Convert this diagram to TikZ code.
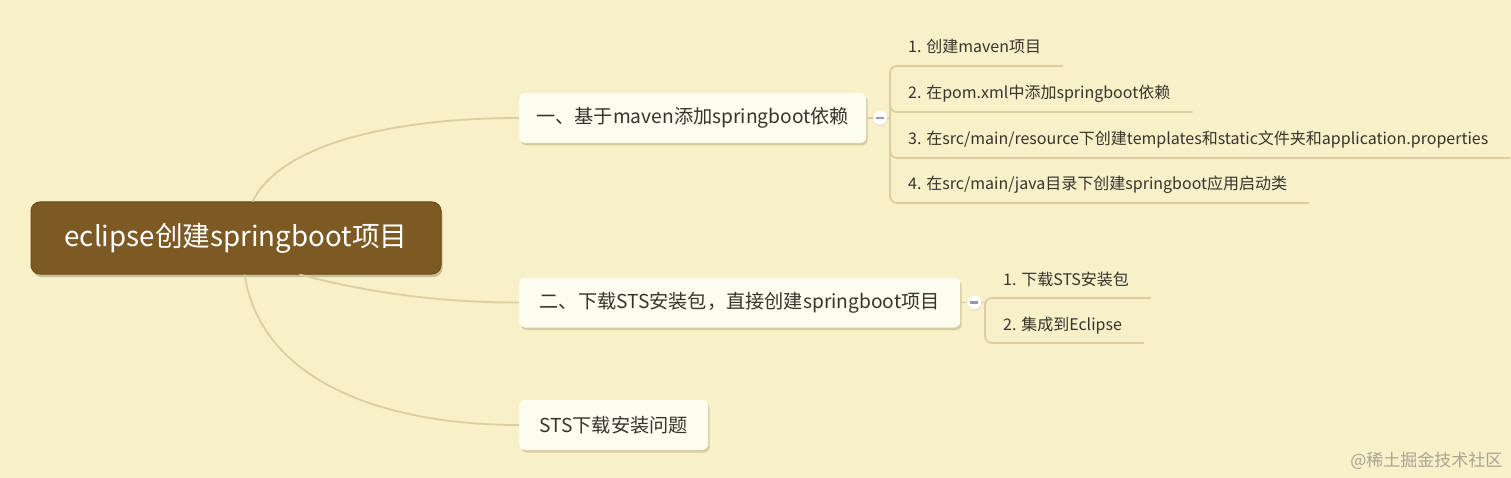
\documentclass[tikz,border=0pt]{standalone}
\usepackage{fontspec}
\setmainfont{Noto Sans CJK SC}
\usetikzlibrary{shadows,calc}

\definecolor{paper}{RGB}{247,240,200}
\definecolor{rootbrown}{RGB}{125,90,35}
\definecolor{rootedge}{RGB}{105,75,28}
\definecolor{topicfill}{RGB}{254,252,238}
\definecolor{branchtan}{RGB}{218,206,162}
\definecolor{inktext}{RGB}{55,52,44}
\definecolor{markgray}{RGB}{168,164,146}

\begin{document}
\begin{tikzpicture}[x=1pt,y=-1pt,
    root/.style={rectangle,rounded corners=9pt,fill=rootbrown,draw=rootedge,line width=1pt,
      text=white,font=\fontsize{27.7}{30}\selectfont,minimum width=410pt,minimum height=72pt,
      drop shadow={shadow xshift=1.5pt,shadow yshift=-3pt,opacity=.3,fill=rootedge}},
    topic/.style={rectangle,rounded corners=6pt,fill=topicfill,text=inktext,
      font=\fontsize{19.2}{22}\selectfont,minimum height=50pt,anchor=west,
      drop shadow={shadow xshift=1.5pt,shadow yshift=-2.5pt,opacity=.22,fill=rootedge}},
    leaf/.style={anchor=base west,inner sep=0pt,text=inktext,font=\fontsize{16}{18}\selectfont},
    branch/.style={draw=branchtan,line width=1.8pt},
    fold/.style={circle,fill=white,minimum size=14pt,inner sep=0pt,
      drop shadow={shadow xshift=.5pt,shadow yshift=-1pt,opacity=.15,fill=rootedge},
      path picture={\draw[gray!80,line width=2.6pt]
        ([xshift=-4pt]path picture bounding box.center) -- ([xshift=4pt]path picture bounding box.center);}}]

  \fill[paper] (0,0) rectangle (1511,478);
  \useasboundingbox (0,0) rectangle (1511,478);

  % main topics
  \node[root] (root) at (236,238) {eclipse创建springboot项目};
  \node[topic,minimum width=347pt] (ta) at (519,118) {一、基于maven添加springboot依赖};
  \node[topic,minimum width=441pt] (tb) at (519,302.5) {二、下载STS安装包，直接创建springboot项目};
  \node[topic,minimum width=189pt] (tc) at (519,425) {STS下载安装问题};

  % sub topics
  \node[leaf] (a1) at (908,53) {1. 创建maven项目};
  \node[leaf] (a2) at (908,99) {2. 在pom.xml中添加springboot依赖};
  \node[leaf] (a3) at (908,145) {3. 在src/main/resource下创建templates和static文件夹和application.properties};
  \node[leaf] (a4) at (908,190) {4. 在src/main/java目录下创建springboot应用启动类};
  \node[leaf] (b1) at (1003,285) {1. 下载STS安装包};
  \node[leaf] (b2) at (1003,330) {2. 集成到Eclipse};

  % curves from the root
  \draw[branch] ($(root.north west)+(222,0)$) .. controls (280,145) and (390,118) .. (ta.west);
  \draw[branch] ($(root.south west)+(269,0)$) .. controls (370,293) and (440,302.5) .. (tb.west);
  \draw[branch] ($(root.south west)+(214,0)$) .. controls (262,385) and (390,425) .. (tc.west);

  % brackets
  \draw[branch] (ta.east) -- ($(a1.base west |- ta.east)+(-18,0)$);
  \draw[branch,rounded corners=7pt] ($(a1.base east)+(22,13)$) -- ($(a1.base west)+(-18,13)$)
    -- ($(a4.base west)+(-18,13)$) -- ($(a4.base east)+(22,13)$);
  \foreach \n in {a2,a3}
    \draw[branch,rounded corners=7pt] ($(\n.base west)+(-18,0)$) -- ($(\n.base west)+(-18,13)$)
      -- ($(\n.base east)+(22,13)$);
  \draw[branch] (tb.east) -- ($(b1.base west |- tb.east)+(-18,0)$);
  \draw[branch,rounded corners=7pt] ($(b1.base east)+(22,13)$) -- ($(b1.base west)+(-18,13)$)
    -- ($(b2.base west)+(-18,13)$) -- ($(b2.base east)+(22,13)$);

  % fold buttons
  \node[fold] (fa) at ($(ta.east)+(14,0)$) {};
  \node[fold] (fb) at ($(tb.east)+(14,0)$) {};

  \node[anchor=east,text=markgray,font=\fontsize{17}{20}\selectfont] (mark) at (1506,461) {@稀土掘金技术社区};
\end{tikzpicture}
\end{document}
